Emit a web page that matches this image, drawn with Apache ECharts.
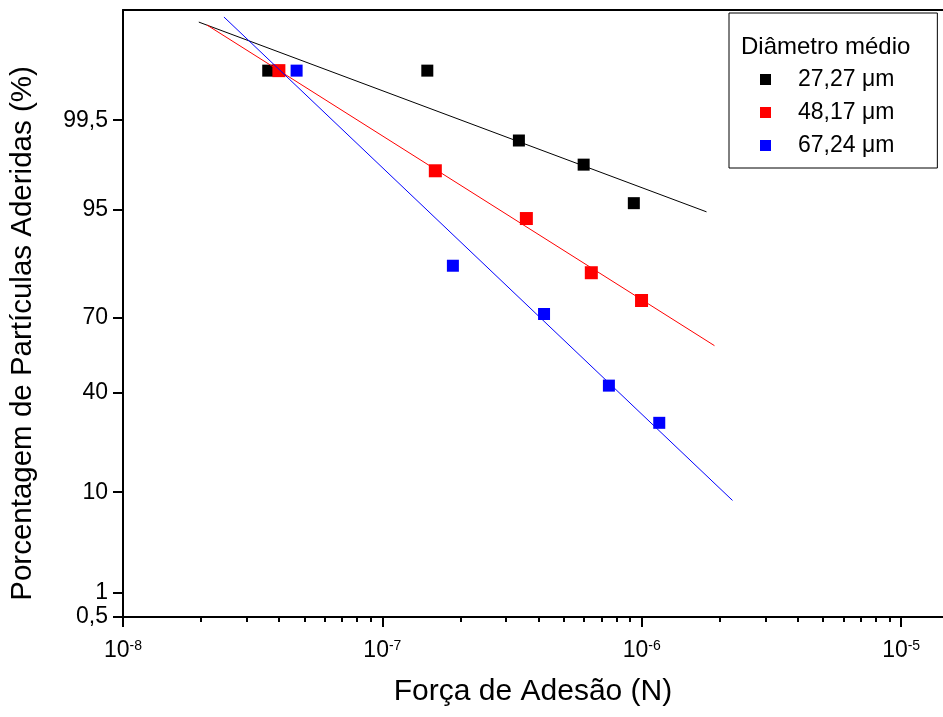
<!DOCTYPE html>
<html>
<head>
<meta charset="utf-8">
<script src="https://cdn.jsdelivr.net/npm/echarts@6/dist/echarts.min.js"></script>
<style>
  html, body { margin: 0; padding: 0; background: #fff; }
  #chart { width: 943px; height: 717px; }
</style>
</head>
<body>
<div id="chart"></div>
<script>
// Measured points: adhesion force (N) and cumulative percentage of adhered particles (%)
const seriesNames = ['27,27 \u03bcm', '48,17 \u03bcm', '67,24 \u03bcm'];
const forceBlack = [3.63e-8, 1.49e-7, 3.36e-7, 5.97e-7, 9.32e-7];
const pctBlack   = [99.9, 99.9, 99.10, 98.28, 95.69];
const forceRed   = [3.99e-8, 1.60e-7, 3.59e-7, 6.39e-7, 9.98e-7];
const pctRed     = [99.9, 97.99, 94.02, 84.0, 76.0];
const forceBlue  = [4.67e-8, 1.87e-7, 4.20e-7, 7.47e-7, 1.168e-6];
const pctBlue    = [99.9, 85.7, 71.45, 43.0, 28.7];

// Fitted straight lines (end points) on the probability scale
const fitForceBlack = [1.96e-8, 1.777e-6];
const fitPctBlack   = [99.9837, 94.80];
const fitForceRed   = [2.107e-8, 1.907e-6];
const fitPctRed     = [99.9817, 59.41];
const fitForceBlue  = [2.45e-8, 2.238e-6];
const fitPctBlue    = [99.9867, 8.58];

// Axis ticks
const yTickPct  = [0.5, 1, 10, 40, 70, 95, 99.5];
const yTickText = ['0,5', '1', '10', '40', '70', '95', '99,5'];
const yRangePct = [0.5, 99.99];
const xMajorExp = [-8, -7, -6, -5];
const xRangeN   = [1e-8, 1.45e-5];

const colors = ['#000000', '#ff0000', '#0000ff'];
const FONT = '"Liberation Sans", Arial, Helvetica, sans-serif';

// Inverse standard normal CDF (Acklam) — maps a cumulative fraction onto the probability axis
function probit(p) {
  const a = [-3.969683028665376e+01, 2.209460984245205e+02, -2.759285104469687e+02, 1.383577518672690e+02, -3.066479806614716e+01, 2.506628277459239e+00];
  const b = [-5.447609879822406e+01, 1.615858368580409e+02, -1.556989798598866e+02, 6.680131188771972e+01, -1.328068155288572e+01];
  const c = [-7.784894002430293e-03, -3.223964580411365e-01, -2.400758277161838e+00, -2.549732539343734e+00, 4.374664141464968e+00, 2.938163982698783e+00];
  const d = [7.784695709041462e-03, 3.224671290700398e-01, 2.445134137142996e+00, 3.754408661907416e+00];
  const pl = 0.02425, ph = 1 - pl;
  let q, r;
  if (p < pl) {
    q = Math.sqrt(-2 * Math.log(p));
    return (((((c[0]*q+c[1])*q+c[2])*q+c[3])*q+c[4])*q+c[5]) / ((((d[0]*q+d[1])*q+d[2])*q+d[3])*q+1);
  }
  if (p <= ph) {
    q = p - 0.5; r = q * q;
    return (((((a[0]*r+a[1])*r+a[2])*r+a[3])*r+a[4])*r+a[5])*q / (((((b[0]*r+b[1])*r+b[2])*r+b[3])*r+b[4])*r+1);
  }
  q = Math.sqrt(-2 * Math.log(1 - p));
  return -(((((c[0]*q+c[1])*q+c[2])*q+c[3])*q+c[4])*q+c[5]) / ((((d[0]*q+d[1])*q+d[2])*q+d[3])*q+1);
}
const zOf = pct => probit(pct / 100);
const pts = (forces, pcts) => forces.map((f, i) => [Math.log10(f), zOf(pcts[i])]);

const yTickZ = yTickPct.map(zOf);
const yMin = zOf(yRangePct[0]);
const yMax = zOf(yRangePct[1]);
const xMin = Math.log10(xRangeN[0]);
const xMax = Math.log10(xRangeN[1]);

// minor decade ticks 2..9 x 10^n inside the range
const xMinor = [];
for (let n = -8; n <= -5; n++) {
  for (let k = 2; k <= 9; k++) {
    const v = Math.log10(k * Math.pow(10, n));
    if (v < xMax) xMinor.push(v);
  }
}

const scatterData = [pts(forceBlack, pctBlack), pts(forceRed, pctRed), pts(forceBlue, pctBlue)];
const fitData = [pts(fitForceBlack, fitPctBlack), pts(fitForceRed, fitPctRed), pts(fitForceBlue, fitPctBlue)];
const markerSizes = [12, 13, 12];

const series = [];
for (let i = 0; i < 3; i++) {
  series.push({
    name: seriesNames[i],
    type: 'scatter',
    symbol: 'rect',
    symbolSize: markerSizes[i],
    itemStyle: { color: colors[i], opacity: 1 },
    emphasis: { disabled: true },
    data: scatterData[i],
    z: 3 + i * 2
  });
  series.push({
    name: 'fit ' + seriesNames[i],
    type: 'line',
    showSymbol: false,
    symbol: 'none',
    lineStyle: { color: colors[i], width: 1 },
    itemStyle: { color: colors[i] },
    data: fitData[i],
    z: 4 + i * 2
  });
}

const chart = echarts.init(document.getElementById('chart'), null, { renderer: 'canvas' });
chart.setOption({
  animation: false,
  backgroundColor: '#ffffff',
  textStyle: { fontFamily: FONT },
  grid: { left: 123, right: 0, top: 10, bottom: 100, containLabel: false },
  title: {
    text: 'Di\u00e2metro m\u00e9dio',
    left: 741, top: 35, padding: 0,
    textStyle: { fontFamily: FONT, fontSize: 24, fontWeight: 'normal', color: '#000' }
  },
  legend: {
    data: seriesNames,
    orient: 'vertical',
    left: 729, top: 13,
    icon: 'rect',
    itemWidth: 11, itemHeight: 11, itemGap: 10,
    selectedMode: false,
    borderColor: '#000', borderWidth: 1,
    padding: [55, 43, 11, 31],
    textStyle: { fontFamily: FONT, fontSize: 23, lineHeight: 23, color: '#000', padding: [0, 0, 0, 22] }
  },
  xAxis: [
    {
      type: 'value', min: xMin, max: xMax, position: 'bottom',
      name: 'For\u00e7a de Ades\u00e3o (N)', nameLocation: 'middle', nameGap: 60,
      nameTextStyle: { fontFamily: FONT, fontSize: 30, color: '#000' },
      axisLine: { show: true, onZero: false, lineStyle: { color: '#000', width: 2 } },
      axisTick: { show: true, inside: false, length: 10, customValues: xMajorExp, lineStyle: { color: '#000', width: 2 } },
      axisLabel: {
        show: true, margin: 22, customValues: xMajorExp,
        fontFamily: FONT, fontSize: 23, color: '#000',
        formatter: v => '{b|10}{s|' + Math.round(v) + '}',
        rich: {
          b: { fontFamily: FONT, fontSize: 23, color: '#000' },
          s: { fontFamily: FONT, fontSize: 14, color: '#000', verticalAlign: 'top', padding: [0, 0, 8, 0] }
        }
      },
      splitLine: { show: false }
    },
    {
      type: 'value', min: xMin, max: xMax, position: 'bottom',
      axisLine: { show: false, onZero: false },
      axisTick: { show: true, inside: false, length: 5, customValues: xMinor, lineStyle: { color: '#000', width: 2 } },
      axisLabel: { show: false },
      splitLine: { show: false }
    },
    {
      type: 'value', min: xMin, max: xMax, position: 'top',
      axisLine: { show: true, onZero: false, lineStyle: { color: '#000', width: 2 } },
      axisTick: { show: false },
      axisLabel: { show: false },
      splitLine: { show: false }
    }
  ],
  yAxis: {
    type: 'value', min: yMin, max: yMax, position: 'left',
    name: 'Porcentagem de Part\u00edculas Aderidas (%)', nameLocation: 'middle', nameGap: 85,
    nameTextStyle: { fontFamily: FONT, fontSize: 29.5, color: '#000', padding: [0, 40, 0, 0] },
    axisLine: { show: true, onZero: false, lineStyle: { color: '#000', width: 2 } },
    axisTick: { show: true, inside: false, length: 10, customValues: yTickZ, lineStyle: { color: '#000', width: 2 } },
    axisLabel: {
      show: true, margin: 15, customValues: yTickZ,
      fontFamily: FONT, fontSize: 23, color: '#000',
      formatter: v => {
        for (let i = 0; i < yTickZ.length; i++) {
          if (Math.abs(yTickZ[i] - v) < 1e-6) return yTickText[i];
        }
        return '';
      }
    },
    splitLine: { show: false }
  },
  series: series
});
</script>
</body>
</html>
